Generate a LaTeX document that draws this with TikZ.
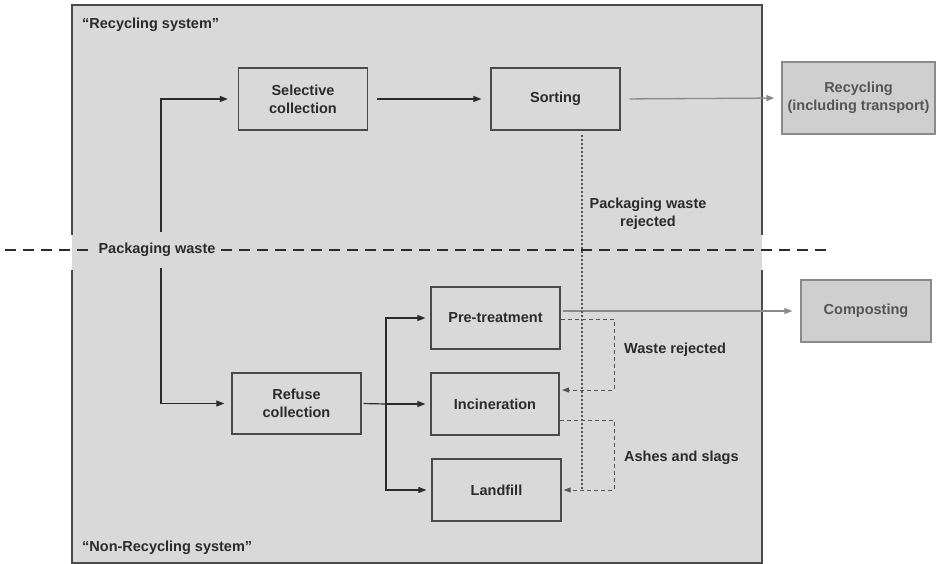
\documentclass[tikz,border=0pt]{standalone}
\usepackage{fontspec}
\setmainfont{Liberation Sans}
\usetikzlibrary{arrows.meta}
\definecolor{bgc}{HTML}{D9D9D9}
\definecolor{boxc}{HTML}{4A4A4A}
\definecolor{txt}{HTML}{2B2B2B}
\definecolor{grayline}{HTML}{8A8A8A}
\definecolor{graytxt}{HTML}{555555}
\definecolor{outfill}{HTML}{CFCFCF}
\begin{document}
\begin{tikzpicture}[x=1pt,y=-1pt,
  lbl/.style={font=\bfseries\fontsize{14.5}{18}\selectfont, text=txt, align=center, inner sep=0pt},
  box/.style={lbl, draw=boxc, line width=1.3pt, fill=bgc, minimum width=129pt, minimum height=62pt},
  outbox/.style={box, draw=grayline, fill=outfill, text=graytxt},
  flow/.style={draw=txt, line width=1.2pt, -{Triangle[length=8pt,width=6pt]}},
  grayflow/.style={draw=grayline, line width=1.3pt, -{Triangle[length=8pt,width=6pt]}},
  rejline/.style={draw=graytxt, line width=1pt, dash pattern=on 4pt off 3pt},
  dotline/.style={draw=graytxt, line width=1.2pt, dash pattern=on 2pt off 2pt},
  bigdash/.style={draw=txt, line width=2pt, dash pattern=on 11pt off 7pt}
]
\useasboundingbox (0,0) rectangle (937,564);
% big system box
\fill[bgc] (72,5) rectangle (762,563);
\draw[boxc, line width=1.3pt] (72,235) -- (72,5) -- (762,5) -- (762,235);
\draw[boxc, line width=1.3pt] (72,270) -- (72,563) -- (762,563) -- (762,270);
\node[lbl, anchor=west] (rs) at (82,25) {“Recycling system”};
\node[lbl, anchor=west] (nrs) at (82,548) {“Non-Recycling system”};

% boxes
\node[box] (sel) at (303,99) {Selective\\collection};
\node[box] (sort) at (555.5,99) {Sorting};
\node[outbox, minimum width=153pt, minimum height=72pt] (rec) at (858.5,98) {Recycling\\(including transport)};
\node[outbox, minimum width=130pt] (comp) at (866,311) {Composting};
\node[box] (pre) at (495.5,318) {Pre-treatment};
\node[box, minimum height=61pt] (ref) at (296.5,403.5) {Refuse\\collection};
\node[box, minimum width=128pt] (inc) at (495,404) {Incineration};
\node[box] (land) at (496.5,490) {Landfill};

% boundary dashed line and packaging waste label
\draw[bigdash] (5,250) -- (827,250);
\node[lbl, fill=bgc, inner xsep=5pt, inner ysep=3pt] (pw) at (157,250) {Packaging waste};
\coordinate (pwt) at (161,232);
\coordinate (pwb) at (161,268);

% flows
\draw[flow, shorten >=10pt] (pwt) |- (sel.west);
\draw[flow, shorten >=7pt] (pwb) |- (ref.west);
\draw[flow, shorten <=9pt, shorten >=9pt] (sel.east) -- (sort.west);
\draw[grayflow, shorten <=9pt, shorten >=7pt] (sort.east) -- (rec.west);
\coordinate (jn) at (386,404);
\draw[line width=1.2pt, draw=txt, shorten <=2pt] (ref.east) -- (jn);
\draw[flow, shorten >=5pt] (jn) |- (pre.west);
\draw[flow, shorten >=5pt] (jn) -- (inc.west);
\draw[flow, shorten >=5pt] (jn) |- (land.west);
\draw[grayflow, shorten <=2pt, shorten >=8pt] (pre.east |- comp.west) -- (comp.west);

% rejected flows
\coordinate (rj) at (582,135);
\draw[dotline] (rj) -- (rj |- land.east);
\coordinate (wr) at (614,319);
\coordinate (wrin) at (562,390);
\draw[rejline, -{Triangle[length=7pt,width=5pt]}] (pre.east |- wr) -- (wr) |- (wrin);
\coordinate (as) at (614,420);
\draw[rejline, -{Triangle[length=7pt,width=5pt]}] (inc.east |- as) -- (as) |- ([xshift=2pt]land.east);

% labels
\node[lbl] (pwr) at (648,214) {Packaging waste\\rejected};
\node[lbl, anchor=west] (wrl) at (624,350) {Waste rejected};
\node[lbl, anchor=west] (asl) at (624,458) {Ashes and slags};
\end{tikzpicture}
\end{document}
